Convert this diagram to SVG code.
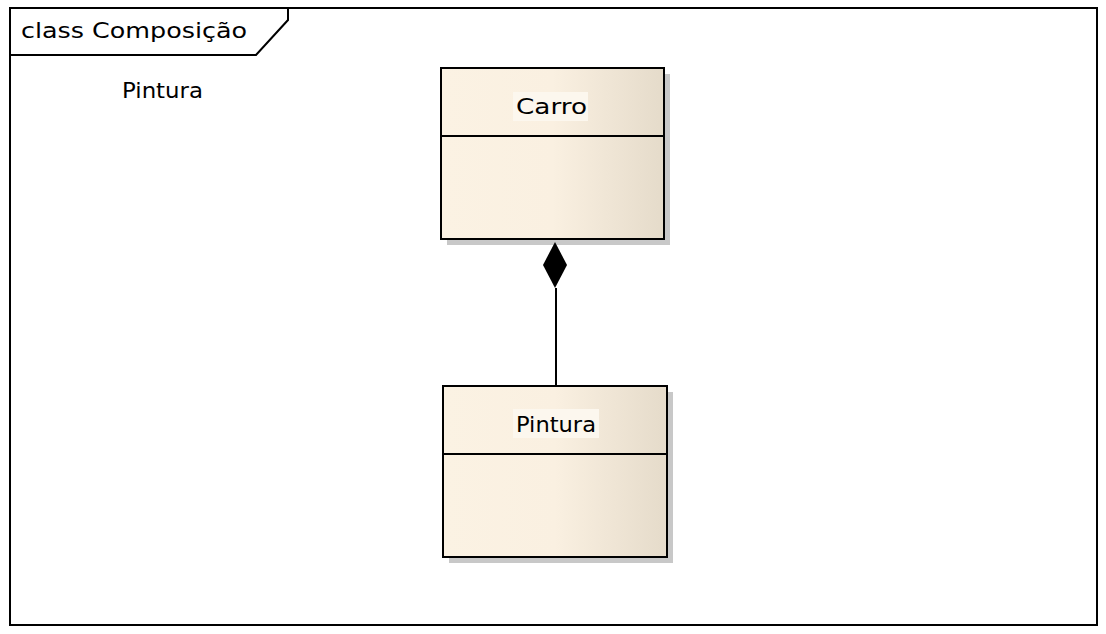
<svg xmlns="http://www.w3.org/2000/svg" width="1106" height="634" viewBox="0 0 1106 634">
<style>
text{font-family:"DejaVu Sans","Liberation Sans",sans-serif;font-size:21px;fill:#000}
.box{fill:url(#g);stroke:#000;stroke-width:2}
.sh{fill:#c8c8c8}
.ln{stroke:#000;stroke-width:2;fill:none}
.hl{fill:#FCF7EE}
</style>
<defs>
<linearGradient id="g" x1="0" y1="0" x2="1" y2="0">
<stop offset="0" stop-color="#FBF2E3"/>
<stop offset="0.5" stop-color="#FAF0E1"/>
<stop offset="1" stop-color="#E5DBCA"/>
</linearGradient>
</defs>
<rect width="1106" height="634" fill="#fff"/>
<g id="frame">
<rect x="10" y="8" width="1087" height="617" fill="none" stroke="#000" stroke-width="2"/>
<path class="ln" d="M10 55 H256 L288 20 V8"/>
<text x="21" y="38" textLength="226" lengthAdjust="spacingAndGlyphs">class Composição</text>
<text x="122" y="98" textLength="81" lengthAdjust="spacingAndGlyphs">Pintura</text>
</g>
<g id="carro">
<rect class="sh" x="447" y="74" width="223" height="171"/>
<rect class="box" x="441" y="68" width="223" height="171"/>
<line class="ln" x1="441" y1="136" x2="664" y2="136"/>
<rect class="hl" x="513" y="92" width="75" height="29"/>
<text x="516" y="114" textLength="71" lengthAdjust="spacingAndGlyphs">Carro</text>
</g>
<g id="pintura">
<rect class="sh" x="449" y="392" width="224" height="171"/>
<rect class="box" x="443" y="386" width="224" height="171"/>
<line class="ln" x1="443" y1="454" x2="667" y2="454"/>
<rect class="hl" x="513" y="409" width="86" height="29"/>
<text x="516" y="432" textLength="80" lengthAdjust="spacingAndGlyphs">Pintura</text>
</g>
<g id="connectors">
<line class="ln" x1="556" y1="288" x2="556" y2="386"/>
<path d="M555 242 L567 265 L555 288 L543 265 Z" fill="#000"/>
</g>
</svg>
